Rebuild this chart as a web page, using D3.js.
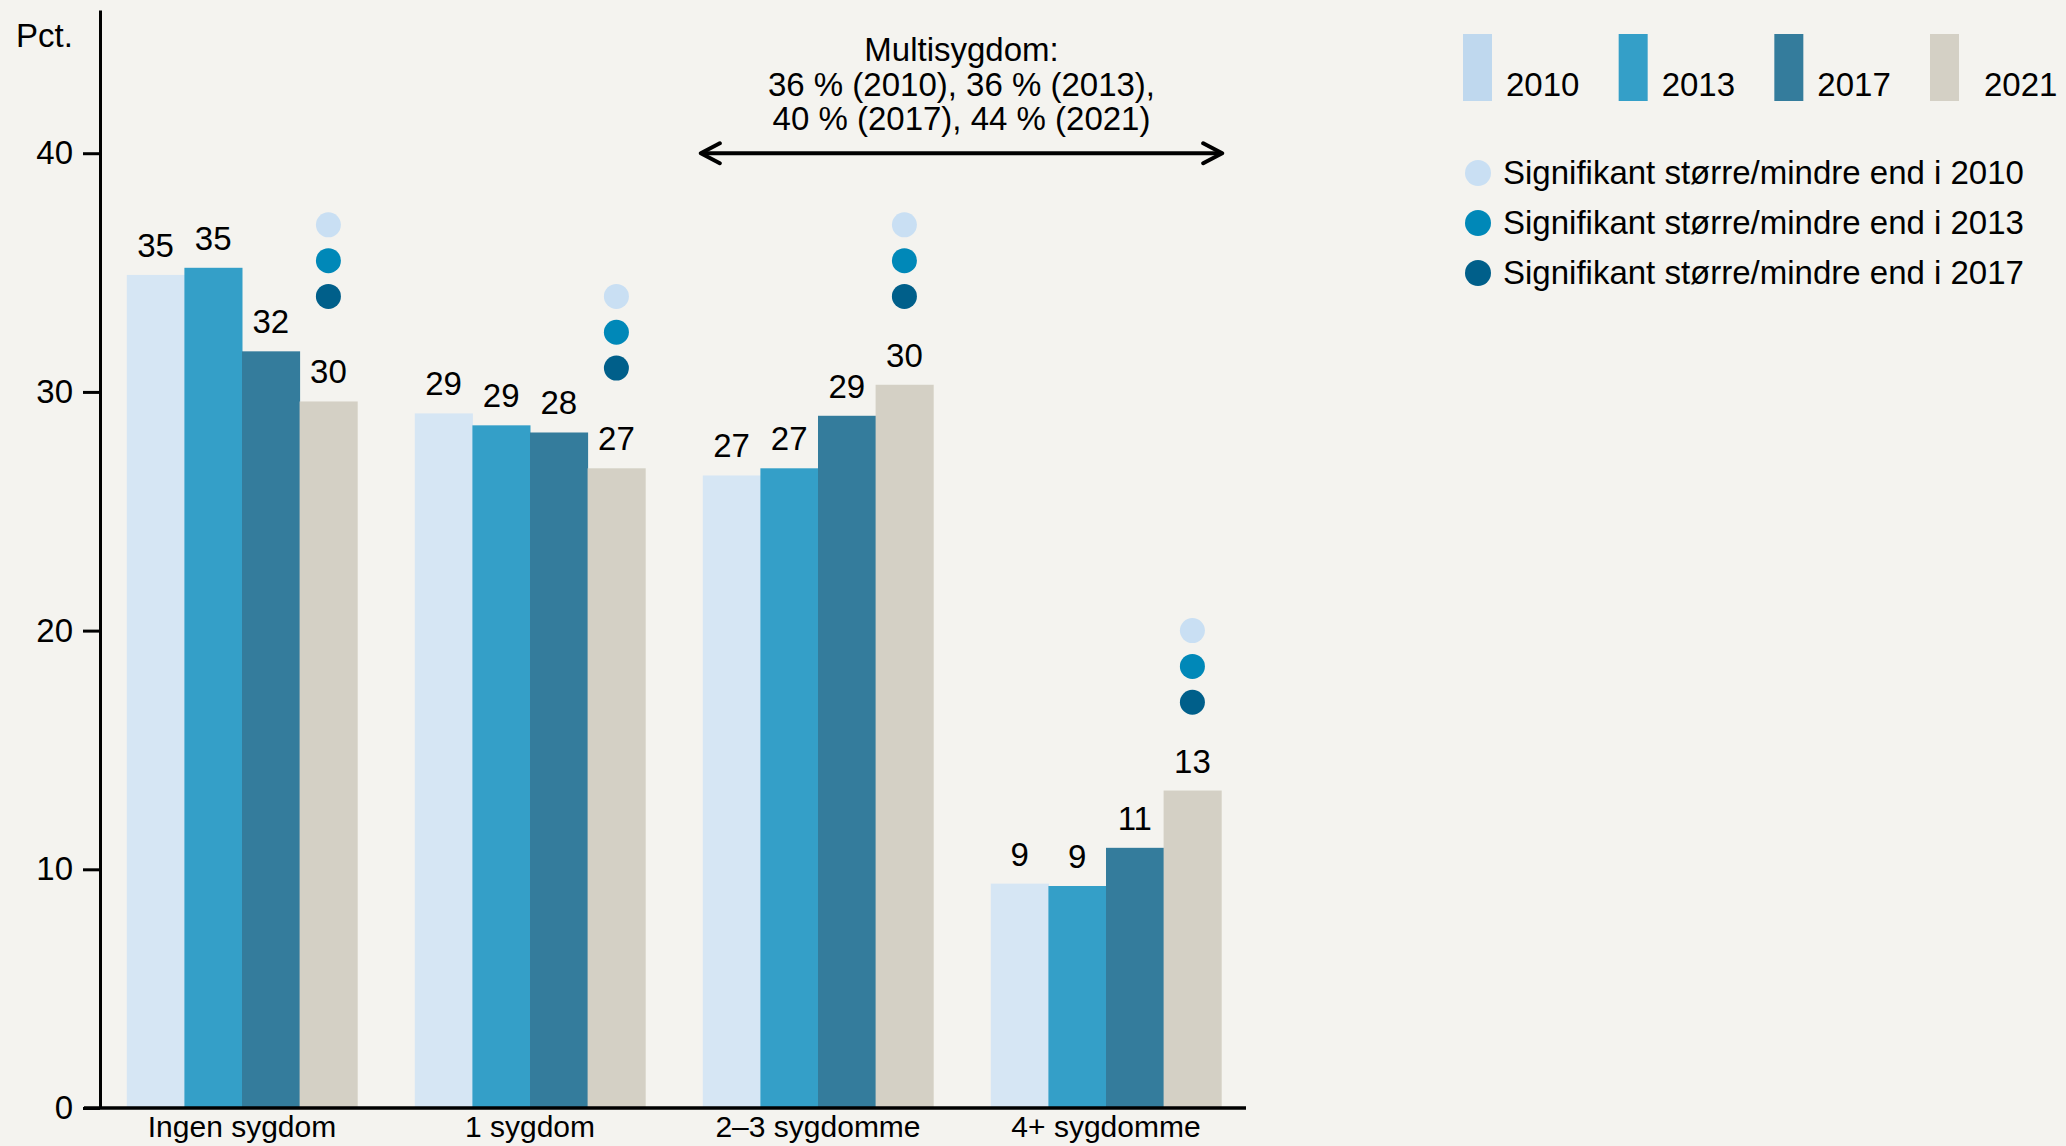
<!DOCTYPE html>
<html>
<head>
<meta charset="utf-8">
<script src="https://cdn.jsdelivr.net/npm/d3@7"></script>
<style>
  html, body { margin: 0; padding: 0; background: #f4f3ef; }
  svg { display: block; font-family: "Liberation Sans", Arial, Helvetica, sans-serif; }
</style>
</head>
<body>
<div id="chart"></div>
<script>
var width = 2066;
var height = 1146;

// data
var categories = ["Ingen sygdom", "1 sygdom", "2–3 sygdomme", "4+ sygdomme"];
var years = ["2010", "2013", "2017", "2021"];
var v2010 = [34.9, 29.1, 26.5, 9.4];
var v2013 = [35.2, 28.6, 26.8, 9.3];
var v2017 = [31.7, 28.3, 29.0, 10.9];
var v2021 = [29.6, 26.8, 30.3, 13.3];
// significance dots sit above the 2021 bar, at these y values
var sig2010 = [37, 34, 37, 20];
var sig2013 = [35.5, 32.5, 35.5, 18.5];
var sig2017 = [34, 31, 34, 17];
var yTicks = [0, 10, 20, 30, 40];
var sigLabels = [
  "Signifikant større/mindre end i 2010",
  "Signifikant større/mindre end i 2013",
  "Signifikant større/mindre end i 2017"
];
var noteLines = ["Multisygdom:", "36 % (2010), 36 % (2013),", "40 % (2017), 44 % (2021)"];

var barColors = ["#d6e6f4", "#349fc8", "#347c9c", "#d4d0c5"];
var legendColors = ["#bfd8ee", "#349fc8", "#347c9c", "#d4d0c5"];
var dotColors = ["#c9dff3", "#0088b8", "#005f8a"];

var series = [v2010, v2013, v2017, v2021];
var sigs = [sig2010, sig2013, sig2017];

var svg = d3.select("#chart").append("svg")
  .attr("width", width)
  .attr("height", height);

svg.append("rect")
  .attr("width", width)
  .attr("height", height)
  .attr("fill", "#f4f3ef");

var x0 = d3.scaleBand()
  .domain(categories)
  .range([98, 1250])
  .paddingInner(0.2)
  .paddingOuter(0.1);

var x1 = d3.scaleBand()
  .domain(years)
  .range([0, x0.bandwidth()]);

var y = d3.scaleLinear()
  .domain([0, 46])
  .range([1108, 10]);

// bars
var groups = svg.append("g")
  .selectAll("g")
  .data(categories)
  .enter()
  .append("g")
  .attr("transform", d => "translate(" + x0(d) + ",0)");

groups.selectAll("rect")
  .data((c, ci) => years.map((yr, i) => ({ year: yr, value: series[i][ci], i: i })))
  .enter()
  .append("rect")
  .attr("x", d => x1(d.year))
  .attr("y", d => y(d.value))
  .attr("width", x1.bandwidth() + 0.5)
  .attr("height", d => y(0) - y(d.value))
  .attr("fill", d => barColors[d.i]);

groups.selectAll("text.val")
  .data((c, ci) => years.map((yr, i) => ({ year: yr, value: series[i][ci] })))
  .enter()
  .append("text")
  .attr("class", "val")
  .attr("x", d => x1(d.year) + x1.bandwidth() / 2)
  .attr("y", d => y(d.value) - 18)
  .attr("text-anchor", "middle")
  .attr("font-size", 33)
  .attr("fill", "#000")
  .text(d => Math.round(d.value));

// significance dots
groups.selectAll("circle")
  .data((c, ci) => sigs.map((s, i) => ({ value: s[ci], i: i })))
  .enter()
  .append("circle")
  .attr("cx", x1("2021") + x1.bandwidth() / 2)
  .attr("cy", d => y(d.value))
  .attr("r", 12.5)
  .attr("fill", d => dotColors[d.i]);

// y axis
var yAxis = d3.axisLeft(y)
  .tickValues(yTicks)
  .tickSize(17)
  .tickSizeOuter(0)
  .tickPadding(10);

var gy = svg.append("g")
  .attr("transform", "translate(100,0)")
  .call(yAxis);

gy.select(".domain").attr("stroke", "#000").attr("stroke-width", 3);
gy.selectAll(".tick line").attr("stroke", "#000").attr("stroke-width", 3);
gy.selectAll(".tick text")
  .attr("font-size", 33)
  .attr("font-family", "Liberation Sans, Arial, sans-serif")
  .attr("fill", "#000");

svg.append("text")
  .attr("x", 16)
  .attr("y", 47)
  .attr("font-size", 33)
  .text("Pct.");

// x axis
svg.append("line")
  .attr("x1", 84)
  .attr("x2", 1246)
  .attr("y1", y(0))
  .attr("y2", y(0))
  .attr("stroke", "#000")
  .attr("stroke-width", 3.5);

svg.append("g")
  .selectAll("text")
  .data(categories)
  .enter()
  .append("text")
  .attr("x", d => x0(d) + x0.bandwidth() / 2)
  .attr("y", 1137)
  .attr("text-anchor", "middle")
  .attr("font-size", 30)
  .text(d => d);

// multisygdom note with double arrow
var ax0 = x0(categories[2]) - 2;
var ax1 = x0(categories[3]) + x0.bandwidth() + 1;
var ay = y(40);
var amid = (ax0 + ax1) / 2;

svg.append("g")
  .selectAll("text")
  .data(noteLines)
  .enter()
  .append("text")
  .attr("x", amid)
  .attr("y", (d, i) => 61 + i * 34.5)
  .attr("text-anchor", "middle")
  .attr("font-size", 33)
  .text(d => d);

svg.append("path")
  .attr("d", "M" + (ax0 + 1) + "," + ay + "H" + (ax1 - 1))
  .attr("stroke", "#000")
  .attr("stroke-width", 4)
  .attr("fill", "none");

svg.append("path")
  .attr("d", "M" + (ax0 + 19) + "," + (ay - 10) + "L" + ax0 + "," + ay + "L" + (ax0 + 19) + "," + (ay + 10) +
    "M" + (ax1 - 19) + "," + (ay - 10) + "L" + ax1 + "," + ay + "L" + (ax1 - 19) + "," + (ay + 10))
  .attr("stroke", "#000")
  .attr("stroke-width", 4)
  .attr("stroke-linecap", "round")
  .attr("stroke-linejoin", "round")
  .attr("fill", "none");

// legend: years
var legend = svg.append("g");
var legendX = d3.scalePoint().domain(years).range([1463, 1930]);

legend.selectAll("rect")
  .data(years)
  .enter()
  .append("rect")
  .attr("x", d => legendX(d))
  .attr("y", 34)
  .attr("width", 29)
  .attr("height", 67)
  .attr("fill", (d, i) => legendColors[i]);

legend.selectAll("text")
  .data(years)
  .enter()
  .append("text")
  .attr("x", (d, i) => legendX(d) + (i === 3 ? 54 : 43))
  .attr("y", 96)
  .attr("font-size", 33)
  .text(d => d);

// legend: significance
var sigLegend = svg.append("g");

sigLegend.selectAll("circle")
  .data(sigLabels)
  .enter()
  .append("circle")
  .attr("cx", 1478)
  .attr("cy", (d, i) => 173 + i * 50)
  .attr("r", 13)
  .attr("fill", (d, i) => dotColors[i]);

sigLegend.selectAll("text")
  .data(sigLabels)
  .enter()
  .append("text")
  .attr("x", 1503)
  .attr("y", (d, i) => 184 + i * 50)
  .attr("font-size", 33)
  .text(d => d);
</script>
</body>
</html>
